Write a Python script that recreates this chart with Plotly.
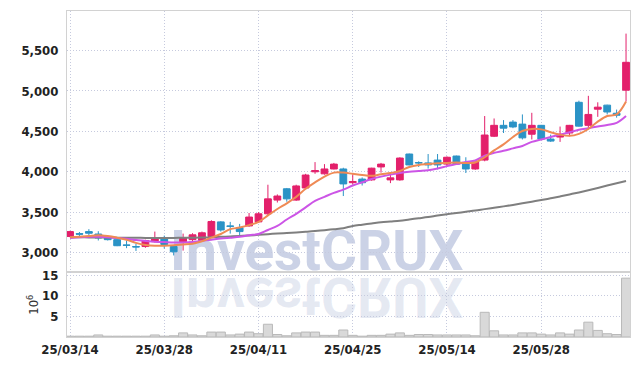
import plotly.graph_objects as go

# ---------------- data ----------------
dates = [
    "2025-03-14", "2025-03-17", "2025-03-18", "2025-03-19", "2025-03-20", "2025-03-21",
    "2025-03-24", "2025-03-25", "2025-03-26", "2025-03-27", "2025-03-28",
    "2025-03-31", "2025-04-01", "2025-04-02", "2025-04-03", "2025-04-04",
    "2025-04-07", "2025-04-08", "2025-04-09", "2025-04-10", "2025-04-11",
    "2025-04-14", "2025-04-15", "2025-04-16", "2025-04-17", "2025-04-18",
    "2025-04-21", "2025-04-22", "2025-04-23", "2025-04-24", "2025-04-25",
    "2025-04-28", "2025-04-29", "2025-04-30", "2025-05-02", "2025-05-07",
    "2025-05-08", "2025-05-09", "2025-05-12", "2025-05-13", "2025-05-14",
    "2025-05-15", "2025-05-16", "2025-05-19", "2025-05-20", "2025-05-21",
    "2025-05-22", "2025-05-23", "2025-05-26", "2025-05-27", "2025-05-28",
    "2025-05-29", "2025-05-30", "2025-06-02", "2025-06-04", "2025-06-05",
    "2025-06-09", "2025-06-10", "2025-06-11", "2025-06-12",
]

open_ = [3200, 3235, 3260, 3230, 3190, 3160, 3095, 3075, 3075, 3135,
         3170, 3075, 3135, 3160, 3150, 3200, 3380, 3330, 3310, 3330,
         3380, 3480, 3650, 3790, 3650, 3800, 4000, 3975, 4035, 4035,
         3865, 3910, 3900, 4060, 3900, 3900, 4220, 4115, 4110, 4145,
         4095, 4195, 4110, 4035, 4145, 4440, 4575, 4615, 4590, 4465,
         4575, 4405, 4430, 4480, 4860, 4575, 4775, 4825, 4725, 5010]
high = [3270, 3255, 3290, 3265, 3200, 3165, 3150, 3110, 3160, 3260,
        3210, 3090, 3235, 3240, 3260, 3400, 3390, 3380, 3355, 3490,
        3500, 3840, 3720, 3800, 3840, 3975, 4120, 4095, 4110, 4050,
        3970, 3930, 4050, 4110, 3985, 4180, 4225, 4130, 4220, 4220,
        4190, 4200, 4180, 4130, 4690, 4660, 4640, 4640, 4710, 4730,
        4580, 4460, 4560, 4580, 4880, 4940, 4860, 4830, 4770, 5710]
low = [3190, 3205, 3215, 3150, 3150, 3080, 3055, 3020, 3060, 3125,
       3050, 2965, 3025, 3130, 3140, 3195, 3260, 3235, 3215, 3320,
       3370, 3460, 3620, 3630, 3640, 3780, 3975, 3965, 4030, 3700,
       3840, 3830, 3890, 3990, 3860, 3890, 4080, 4060, 4040, 4030,
       4060, 4090, 3985, 4025, 4130, 4430, 4480, 4540, 4400, 4400,
       4395, 4370, 4370, 4440, 4560, 4530, 4680, 4710, 4670, 4870]
close = [3260, 3228, 3240, 3180, 3160, 3085, 3090, 3070, 3150, 3170,
         3100, 3010, 3185, 3220, 3245, 3385, 3280, 3325, 3260, 3440,
         3480, 3665, 3700, 3665, 3825, 3960, 4015, 4035, 4095, 3850,
         3880, 3865, 4045, 4095, 3925, 4170, 4085, 4110, 4085, 4085,
         4180, 4095, 4035, 4120, 4455, 4575, 4540, 4555, 4420, 4575,
         4405, 4380, 4465, 4575, 4565, 4710, 4800, 4740, 4700, 5355]

volume = [0.2, 0.2, 0.2, 0.5, 0.2, 0.2, 0.2, 0.2, 0.2, 0.5,
          0.2, 0.3, 1.0, 0.5, 0.3, 1.2, 1.2, 0.5, 0.7, 1.2,
          0.8, 3.1, 0.6, 0.3, 1.0, 1.2, 1.2, 0.4, 0.4, 1.7,
          0.4, 0.2, 0.4, 0.4, 0.7, 1.0, 0.4, 0.6, 0.6, 0.5,
          0.5, 0.5, 0.5, 0.3, 6.0, 1.5, 0.5, 0.5, 1.0, 1.0,
          0.7, 0.5, 1.0, 0.7, 1.7, 3.6, 1.6, 0.8, 0.6, 14.3]

ma_short = [3190, 3195, 3205, 3215, 3205, 3185, 3160, 3120, 3095, 3085,
            3085, 3090, 3100, 3110, 3140, 3185, 3230, 3290, 3310, 3340,
            3380, 3460, 3540, 3610, 3690, 3790, 3870, 3940, 3990, 3990,
            3975, 3960, 3950, 3970, 3985, 4010, 4060, 4085, 4095, 4105,
            4110, 4115, 4110, 4115, 4180, 4265, 4340, 4430, 4505, 4530,
            4525, 4490, 4460, 4445, 4470, 4530, 4620, 4690, 4710, 4870]
ma_mid = [3180, 3190, 3195, 3195, 3190, 3180, 3170, 3155, 3145, 3135,
          3130, 3125, 3125, 3130, 3145, 3160, 3175, 3185, 3195, 3215,
          3230, 3280, 3330, 3410, 3480, 3560, 3640, 3690, 3740, 3780,
          3830, 3870, 3910, 3940, 3965, 3985, 4000, 4010, 4020, 4040,
          4070, 4095, 4120, 4140, 4200, 4235, 4260, 4290, 4320, 4370,
          4400, 4430, 4460, 4490, 4520, 4540, 4560, 4580, 4605, 4690]
ma_long = [3190, 3189, 3188, 3187, 3186, 3185, 3184, 3183, 3182, 3182,
           3182, 3182, 3183, 3184, 3186, 3190, 3195, 3200, 3205, 3212,
           3220, 3228, 3236, 3243, 3250, 3258, 3267, 3278, 3290, 3302,
           3330, 3345, 3360, 3375, 3385, 3395, 3410, 3425, 3440, 3458,
           3475, 3490, 3505, 3520, 3538, 3555, 3572, 3590, 3610, 3630,
           3650, 3672, 3695, 3720, 3745, 3772, 3800, 3830, 3858, 3885]

tick_dates = ["2025-03-14", "2025-03-28", "2025-04-11", "2025-04-25", "2025-05-14", "2025-05-28"]
tick_labels = ["25/03/14", "25/03/28", "25/04/11", "25/04/25", "25/05/14", "25/05/28"]
price_ticks = [3000, 3500, 4000, 4500, 5000, 5500]
volume_ticks = [5, 10, 15]

# ---------------- style ----------------
UP = "#e3206b"
DOWN = "#2b93c6"
GRID = "#c6cade"
AXLINE = "#d2d2d2"
FONT = "DejaVu Sans Condensed, DejaVu Sans, sans-serif"
TICKFONT = dict(family=FONT, size=13, color="#222222", weight=600)

fig = go.Figure()

fig.add_trace(go.Candlestick(
    x=dates, open=open_, high=high, low=low, close=close,
    increasing=dict(line=dict(color=UP, width=1), fillcolor=UP),
    decreasing=dict(line=dict(color=DOWN, width=1), fillcolor=DOWN),
    whiskerwidth=0, xaxis="x", yaxis="y", showlegend=False,
))
fig.add_trace(go.Scatter(x=dates, y=ma_long, mode="lines",
                         line=dict(color="#7f7f7f", width=2, shape="spline"),
                         xaxis="x", yaxis="y", showlegend=False))
fig.add_trace(go.Scatter(x=dates, y=ma_mid, mode="lines",
                         line=dict(color="#cc55e6", width=2, shape="spline"),
                         xaxis="x", yaxis="y", showlegend=False))
fig.add_trace(go.Scatter(x=dates, y=ma_short, mode="lines",
                         line=dict(color="#ef8a55", width=2, shape="spline"),
                         xaxis="x", yaxis="y", showlegend=False))
fig.add_trace(go.Bar(x=dates, y=volume,
                     marker=dict(color="#d9d9d9", line=dict(color="#b9b9b9", width=1)),
                     xaxis="x2", yaxis="y2", showlegend=False))

xr = [-0.32, 59.42]
vol_frac = 65 / 328

common_x = dict(type="category", range=xr, showgrid=True, gridcolor=GRID,
                griddash="1px,2px", gridwidth=1, showline=True, linecolor=AXLINE,
                mirror=True, ticks="", zeroline=False,
                tickvals=tick_dates, ticktext=tick_labels)

fig.update_layout(
    width=639, height=366,
    margin=dict(l=67, r=9, t=6, b=29),
    paper_bgcolor="white", plot_bgcolor="rgba(0,0,0,0)",
    font=dict(family=FONT, size=13, color="#222222"),
    showlegend=False,
    boxgap=0.2, boxgroupgap=0.1,
    bargap=0.04,
    xaxis=dict(**common_x, anchor="y", showticklabels=False,
               rangeslider=dict(visible=False), matches="x2"),
    xaxis2=dict(**common_x, anchor="y2", tickfont=TICKFONT),
    yaxis=dict(domain=[vol_frac, 1], range=[2755, 5990], tickvals=price_ticks,
               tickformat=",", showgrid=True, gridcolor=GRID, griddash="1px,2px",
               showline=True, linecolor=AXLINE, mirror=True, zeroline=False,
               ticks="", ticklabelstandoff=5, tickfont=TICKFONT),
    yaxis2=dict(domain=[0, vol_frac], range=[0, 15.7], tickvals=volume_ticks,
                showgrid=True, gridcolor=GRID, griddash="1px,2px",
                showline=True, linecolor=AXLINE, mirror=True, zeroline=False,
                ticks="", ticklabelstandoff=5, tickfont=TICKFONT,
                title=dict(text="10<sup>6</sup>", standoff=0,
                           font=dict(family=FONT, size=13, color="#333333"))),
    annotations=[
        dict(text="<b>InvestCRUX</b>", xref="paper", yref="paper",
             x=0.444, y=0.265, xanchor="center", yanchor="middle",
             showarrow=False,
             font=dict(family="Roboto, Liberation Sans, sans-serif", size=55,
                       color="rgba(140,155,200,0.45)")),
        dict(text="<b>InvestCRUX</b>", xref="paper", yref="paper",
             x=0.444, y=0.122, xanchor="center", yanchor="middle",
             showarrow=False,
             font=dict(family="Roboto, Liberation Sans, sans-serif", size=55,
                       color="rgba(140,155,200,0.22)")),
    ],
)

post = """
(function(){
  var gd = document.getElementById('{plot_id}');
  function fix(){
    var cart = gd.querySelector('.cartesianlayer');
    if(!cart) return;
    var holder = gd.querySelector('g.wm-holder');
    if(!holder){
      holder = document.createElementNS('http://www.w3.org/2000/svg','g');
      holder.setAttribute('class','wm-holder');
      cart.parentNode.insertBefore(holder, cart);
    }
    var anns = gd.querySelectorAll('.infolayer g.annotation');
    if(anns.length === 0) return;
    while(holder.firstChild) holder.removeChild(holder.firstChild);
    anns.forEach(function(g){
      if(g.getAttribute('data-index') === '1'){
        var t = g.querySelector('text');
        if(t){
          var bb = t.getBBox();
          var cy = bb.y + bb.height/2;
          t.setAttribute('transform','translate(0,'+(2*cy)+') scale(1,-1)');
        }
      }
      holder.appendChild(g);
    });
  }
  fix();
  if(gd.on) gd.on('plotly_afterplot', fix);
  setTimeout(fix, 200);
  setTimeout(fix, 800);
})();
"""

fig.write_html("out.html", post_script=post)
